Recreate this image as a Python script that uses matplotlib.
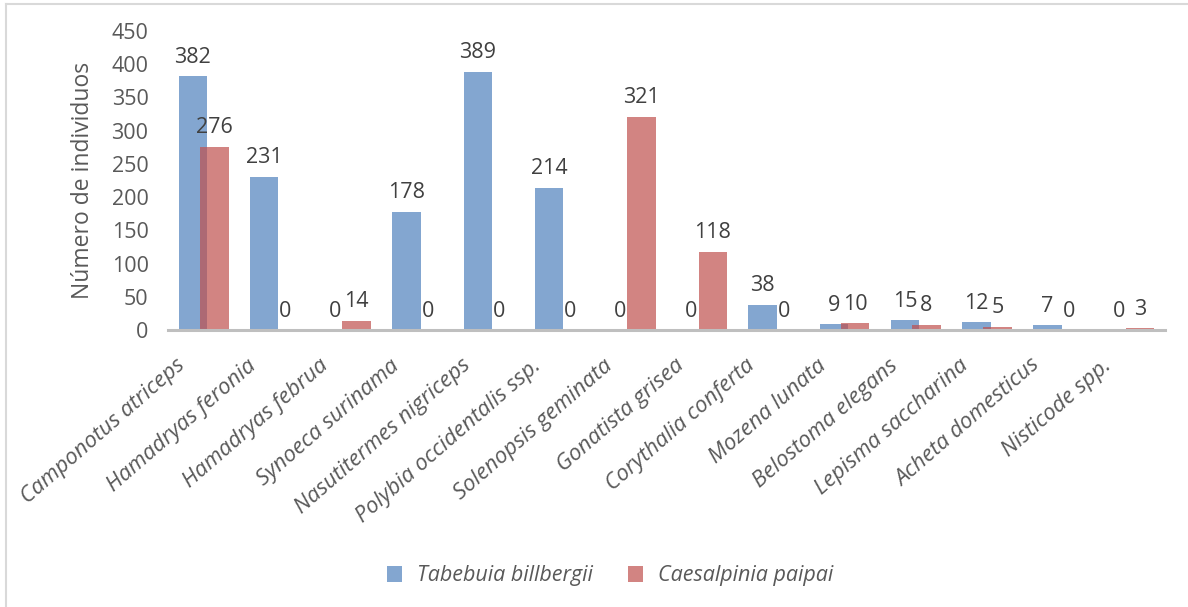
import numpy as np
import matplotlib
matplotlib.use("Agg")
import matplotlib.pyplot as plt
import matplotlib.transforms as mtransforms
from matplotlib.lines import Line2D

plt.rcParams['font.family'] = ['Open Sans', 'DejaVu Sans']

species = ['Camponotus atriceps', 'Hamadryas feronia', 'Hamadryas februa',
           'Synoeca surinama', 'Nasutitermes nigriceps', 'Polybia occidentalis ssp.',
           'Solenopsis geminata', 'Gonatista grisea', 'Corythalia conferta',
           'Mozena lunata', 'Belostoma elegans', 'Lepisma saccharina',
           'Acheta domesticus', 'Nisticode spp.']
tabebuia = [382, 231, 0, 178, 389, 214, 0, 0, 38, 9, 15, 12, 7, 0]
caesalpinia = [276, 0, 14, 0, 0, 0, 321, 118, 0, 10, 8, 5, 0, 3]
series_names = ['Tabebuia billbergii', 'Caesalpinia paipai']

blue = '#4F81BD'
red = '#C0504D'
txt = '#595959'
fs = 15.5

fig = plt.figure(figsize=(11.88, 6.07), dpi=100)
ax = fig.add_axes([168 / 1188, 1 - 330 / 607, 997 / 1188, 299 / 607])

x = np.arange(len(species))
w = 0.40
off = 0.15
b1 = ax.bar(x - off, tabebuia, w, color=blue, alpha=0.7, label=series_names[0])
b2 = ax.bar(x + off, caesalpinia, w, color=red, alpha=0.7, label=series_names[1])

for bars, vals in ((b1, tabebuia), (b2, caesalpinia)):
    for r, v in zip(bars, vals):
        ax.annotate(str(v), (r.get_x() + r.get_width() / 2, v), xytext=(0, 6),
                    textcoords='offset points', ha='center', va='bottom',
                    fontsize=fs, color='#404040')

ax.set_xlim(-0.5, len(species) - 0.5)
ax.set_ylim(0, 450)
ax.set_yticks(np.arange(0, 451, 50))
ax.tick_params(axis='y', length=0, pad=14, labelsize=fs, labelcolor=txt)
ax.tick_params(axis='x', length=0, pad=18)
ax.set_xticks(x)
ax.set_xticklabels(species, rotation=41, ha='right', va='top', rotation_mode='anchor',
                   fontsize=16, style='italic', color=txt)
shift = mtransforms.ScaledTranslation(-20 / 72, 0, fig.dpi_scale_trans)
for lbl in ax.get_xticklabels():
    lbl.set_transform(lbl.get_transform() + shift)

for s in ('top', 'right', 'left'):
    ax.spines[s].set_visible(False)
ax.spines['bottom'].set_color('#bfbfbf')
ax.spines['bottom'].set_linewidth(2.2)

ax.set_ylabel('Número de individuos', fontsize=16.5, color=txt)
ax.yaxis.set_label_coords(-0.073, 0.5)

leg = fig.legend(handles=[b1, b2], loc='center', bbox_to_anchor=(610 / 1188, 1 - 576 / 607),
                 ncol=2, frameon=False, handlelength=0.7, handleheight=0.7,
                 columnspacing=1.6, handletextpad=0.7,
                 prop={'size': fs, 'style': 'italic'})
for t in leg.get_texts():
    t.set_color(txt)

# chart border
fig.add_artist(Line2D([6 / 1188, 1], [1 - 4 / 607, 1 - 4 / 607], color='#d9d9d9', lw=1.5))
fig.add_artist(Line2D([6 / 1188, 6 / 1188], [0, 1 - 4 / 607], color='#d9d9d9', lw=1.5))

fig.savefig('out.png', dpi=100)
